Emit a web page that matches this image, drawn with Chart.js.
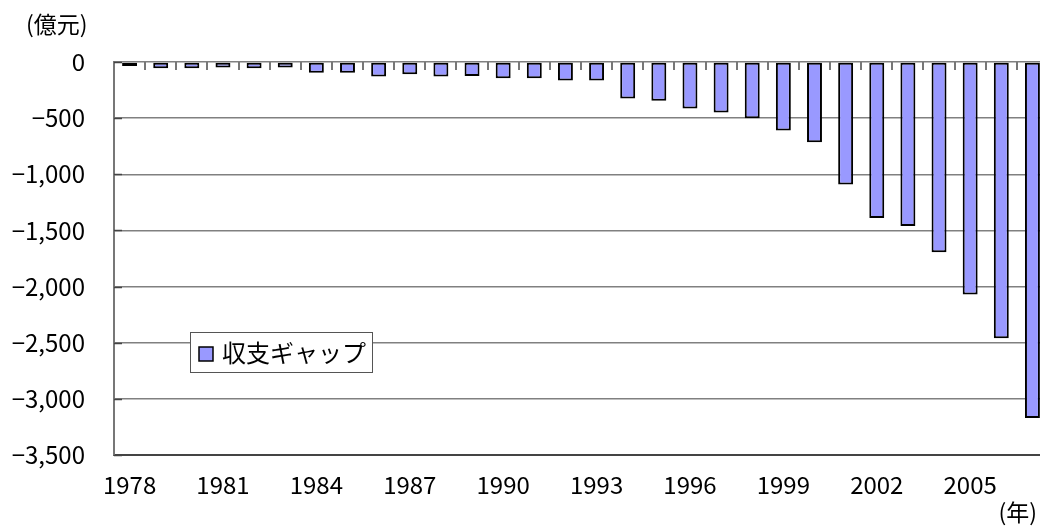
<!DOCTYPE html>
<html>
<head>
<meta charset="utf-8">
<script src="https://cdn.jsdelivr.net/npm/chart.js@4"></script>
<style>
  html, body { margin: 0; padding: 0; background: #fff; overflow: hidden; }
  #wrap { position: relative; width: 1048px; height: 531px; }
</style>
</head>
<body>
<div id="wrap"><canvas id="gapChart"></canvas></div>
<script>
// 年
const years = [
  '1978', '1979', '1980', '1981', '1982', '1983', '1984', '1985', '1986', '1987',
  '1988', '1989', '1990', '1991', '1992', '1993', '1994', '1995', '1996', '1997',
  '1998', '1999', '2000', '2001', '2002', '2003', '2004', '2005', '2006', '2007'
];
// 収支ギャップ（億元）
const gapValues = [
  -35, -55, -55, -50, -55, -50, -95, -95, -130, -110,
  -130, -125, -145, -145, -165, -165, -325, -345, -415, -450,
  -500, -610, -715, -1090, -1390, -1460, -1695, -2070, -2460, -3170
];
const yTicks = [0, -500, -1000, -1500, -2000, -2500, -3000, -3500];
const seriesName = '収支ギャップ';

const labelFont = '"Noto Sans CJK JP", "Noto Sans", sans-serif';

// 軸の内向き目盛り、単位、凡例を描く
const decorPlugin = {
  id: 'decor',
  afterDatasetsDraw(chart) {
    const ctx = chart.ctx;
    const xs = chart.scales.x;
    const ys = chart.scales.y;
    const area = chart.chartArea;
    const zeroY = ys.getPixelForValue(0);

    ctx.save();
    ctx.strokeStyle = '#777';
    ctx.lineWidth = 2;
    // 横軸(0の線)の目盛り
    const step = (xs.right - xs.left) / years.length;
    for (let i = 0; i <= years.length; i++) {
      const x = Math.round(xs.left + i * step);
      ctx.beginPath();
      ctx.moveTo(x, zeroY);
      ctx.lineTo(x, zeroY + 8);
      ctx.stroke();
    }
    // 縦軸の目盛り
    ctx.strokeStyle = '#444';
    yTicks.forEach(v => {
      const y = Math.round(ys.getPixelForValue(v)) + 0.5;
      ctx.beginPath();
      ctx.lineWidth = 1.5;
      ctx.moveTo(area.left, y);
      ctx.lineTo(area.left + 8, y);
      ctx.stroke();
    });

    // 単位
    ctx.fillStyle = '#000';
    ctx.font = '23px ' + labelFont;
    ctx.textBaseline = 'middle';
    ctx.textAlign = 'left';
    ctx.fillText('(億元)', 26, 24);
    ctx.textAlign = 'right';
    ctx.fillText('(年)', 1037, 512);

    // 凡例
    const ds = chart.data.datasets[0];
    const lx = area.left + 76, ly = area.top + 270, lw = 182, lh = 40;
    ctx.fillStyle = '#fff';
    ctx.fillRect(lx, ly, lw, lh);
    ctx.strokeStyle = '#555';
    ctx.lineWidth = 1;
    ctx.strokeRect(lx + 0.5, ly + 0.5, lw, lh);
    ctx.fillStyle = ds.backgroundColor;
    ctx.fillRect(lx + 9, ly + 15, 14, 14);
    ctx.strokeStyle = '#000';
    ctx.lineWidth = 1.5;
    ctx.strokeRect(lx + 9, ly + 15, 14, 14);
    ctx.fillStyle = '#000';
    ctx.font = '24px ' + labelFont;
    ctx.textAlign = 'left';
    ctx.fillText(ds.label, lx + 32, ly + lh / 2 + 1);
    ctx.restore();
  }
};

const ctx = document.getElementById('gapChart').getContext('2d');
new Chart(ctx, {
  type: 'bar',
  data: {
    labels: years,
    datasets: [{
      label: seriesName,
      data: gapValues,
      backgroundColor: '#9999ff',
      borderColor: '#000',
      borderWidth: 2,
      borderSkipped: false,
      categoryPercentage: 1,
      barPercentage: 0.48
    }]
  },
  options: {
    responsive: true,
    maintainAspectRatio: false,
    animation: false,
    layout: { padding: { top: 62, right: 0, bottom: 0, left: 0 } },
    plugins: {
      legend: { display: false },
      tooltip: { enabled: false }
    },
    scales: {
      x: {
        position: 'bottom',
        grid: { display: false, drawTicks: false },
        border: { display: true, color: '#444', width: 2 },
        ticks: {
          autoSkip: false,
          maxRotation: 0,
          padding: 15,
          color: '#000',
          font: { family: labelFont, size: 24 },
          callback: (val, i) => (i % 3 === 0 ? years[i] : '')
        },
        afterFit: (scale) => { scale.height = 76; }
      },
      y: {
        min: -3500,
        max: 0,
        afterBuildTicks: (scale) => { scale.ticks = yTicks.map(v => ({ value: v })); },
        grid: { color: '#808080', lineWidth: 1.5, drawTicks: false },
        border: { display: true, color: '#777', width: 2 },
        ticks: {
          padding: 29,
          color: '#000',
          font: { family: labelFont, size: 24 },
          callback: (v) => v.toLocaleString('en-US').replace('-', '\u2212')
        },
        afterFit: (scale) => { scale.width = 114; }
      }
    }
  },
  plugins: [decorPlugin]
});
</script>
</body>
</html>
